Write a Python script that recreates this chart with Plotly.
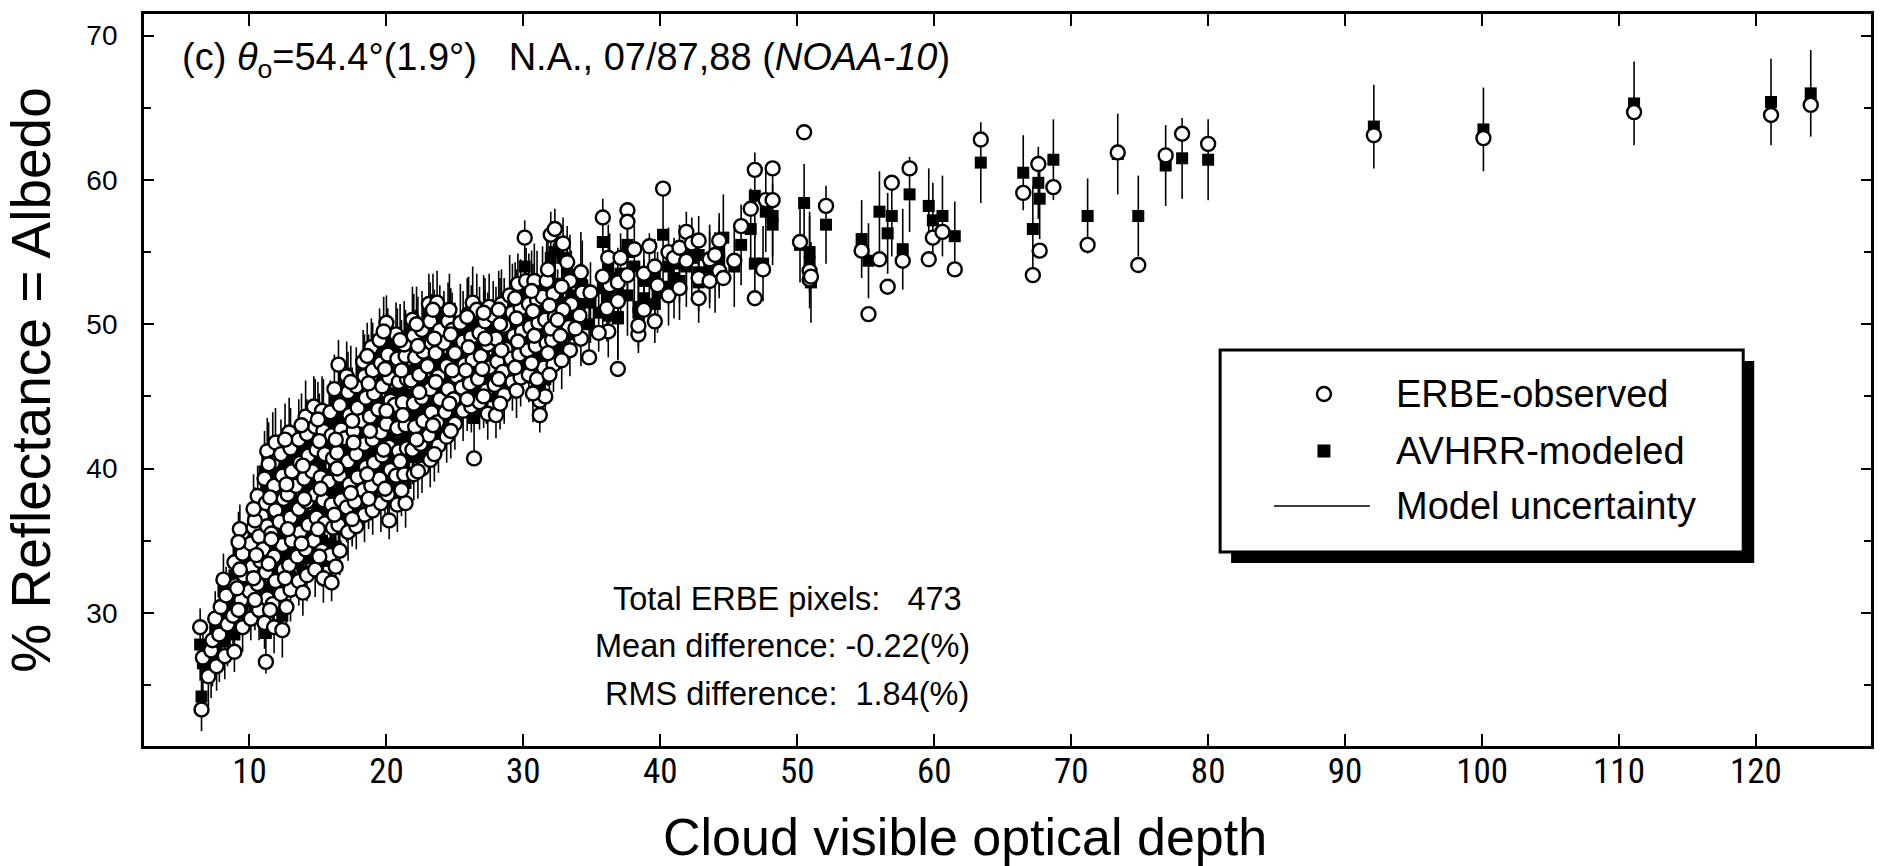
import plotly.graph_objects as go

# ---------------- data ----------------
# Dense part of the cloud: cloud optical depth, ERBE-observed albedo (%),
# AVHRR-modeled albedo (%), half-length of the model-uncertainty bar (%)
tau_dense = [
    6.5, 6.6, 6.4,
    7.0, 7.2, 7.3,
    7.6, 7.8, 7.5, 7.9,
    8.2, 8.4, 8.3, 8.1,
    8.9, 8.8, 9.0, 8.9,
    9.5, 9.4, 9.6, 9.5, 9.3,
    10.1, 10.0, 10.2, 10.1, 10.3,
    10.7, 10.6, 10.8, 10.7, 10.9, 10.6,
    11.2, 11.1, 11.3, 11.2, 11.0, 11.3, 11.2, 11.1, 11.3,
    11.8, 11.7, 11.9, 11.8, 11.6, 11.9, 11.8, 11.7, 11.9,
    12.4, 12.3, 12.5, 12.4, 12.2, 12.5, 12.4, 12.3,
    13.0, 12.9, 13.1, 13.0, 12.8, 13.1, 13.0, 12.9,
    13.6, 13.5, 13.7, 13.6, 13.4, 13.7, 13.6,
    14.2, 14.1, 14.3, 14.2, 14.0, 14.3, 14.2, 14.1,
    14.8, 14.7, 14.9, 14.8, 14.6, 14.9, 14.8, 14.7,
    15.4, 15.3, 15.5, 15.4, 15.2, 15.5, 15.4, 15.3,
    16.0, 15.9, 16.1, 16.0, 15.8, 16.1, 16.0, 15.9,
    16.6, 16.5, 16.7, 16.6, 16.4, 16.7, 16.6, 16.5,
    17.2, 17.1, 17.3, 17.2, 17.0, 17.3, 17.2, 17.1,
    17.8, 17.7, 17.9, 17.8, 17.6, 17.9, 17.8,
    18.4, 18.3, 18.5, 18.4, 18.2, 18.5, 18.4, 18.3,
    19.0, 18.9, 19.1, 19.0, 18.8, 19.1, 19.0, 18.9,
    19.6, 19.5, 19.7, 19.6, 19.4, 19.7, 19.6, 19.5,
    20.2, 20.1, 20.3, 20.2, 20.0, 20.3, 20.2, 20.1, 20.0,
    20.8, 20.7, 20.9, 20.8, 20.6, 20.9, 20.8, 20.7,
    21.4, 21.3, 21.5, 21.4, 21.2, 21.5, 21.4, 21.3,
    22.0, 21.9, 22.1, 22.0, 21.8, 22.1, 22.0, 21.9,
    22.6, 22.5, 22.7, 22.6, 22.4, 22.7, 22.6,
    23.2, 23.1, 23.3, 23.2, 23.0, 23.3, 23.2, 23.1,
    23.8, 23.7, 23.9, 23.8, 23.6, 23.9, 23.7,
    24.4, 24.3, 24.5, 24.4, 24.2, 24.5,
    25.0, 24.9, 25.1, 25.0, 24.8,
    25.6, 25.5, 25.7, 25.6, 25.4,
    26.4, 26.2, 26.1, 26.3, 26.2, 26.0, 26.3,
    26.8, 26.7, 26.9, 26.8, 26.6,
    27.4, 27.3, 27.5, 27.4, 27.2, 27.5,
    28.0, 27.9, 28.1, 28.0, 27.8,
    28.6, 28.5, 28.7, 28.6, 28.4,
    29.2, 29.1, 29.3, 29.2, 29.0,
    29.8, 29.7, 29.9, 29.8, 29.6,
    30.4, 30.3, 30.5, 30.4, 30.2, 30.1,
    31.2, 31.2, 31.0, 30.9, 31.1, 31.0, 30.8,
    31.6, 31.5, 31.7, 31.6, 31.4, 31.7,
    32.2, 32.1, 32.3, 32.2, 32.0, 32.3,
    33.4, 33.3, 33.5, 33.4, 33.2,
    34.2, 34.1, 34.3, 34.2,
    36.2, 36.1, 36.3, 36.2,
]
erbe_dense = [
    23.3, 26.9, 29.0,
    25.6, 27.4, 28.1,
    26.3, 28.5, 29.6, 30.4,
    27.0, 29.2, 31.2, 32.3,
    27.3, 29.8, 31.9, 33.5,
    29.0, 30.9, 32.6, 34.1, 35.8,
    29.6, 31.5, 33.2, 34.8, 35.9,
    30.2, 32.0, 33.6, 35.3, 36.7, 38.1,
    26.6, 29.3, 31.0, 32.8, 34.4, 36.0, 37.6, 39.3, 41.2,
    29.0, 30.6, 32.2, 33.9, 35.5, 37.1, 38.8, 40.4, 41.8,
    28.8, 31.3, 33.0, 34.7, 36.3, 37.9, 39.5, 41.0,
    31.6, 33.3, 35.0, 36.6, 38.2, 39.8, 41.4, 42.5,
    32.2, 33.9, 35.6, 37.2, 38.8, 40.4, 42.0,
    32.6, 34.4, 36.1, 37.7, 39.3, 40.9, 42.4, 43.6,
    33.0, 35.0, 36.6, 38.2, 39.8, 41.3, 42.9, 44.3,
    32.4, 34.3, 36.2, 37.8, 39.4, 41.0, 42.6, 44.0,
    32.1, 34.0, 35.9, 37.5, 39.1, 40.7, 42.3, 43.9,
    34.3, 36.1, 37.8, 39.5, 41.1, 42.7, 44.4, 47.2,
    35.6, 37.3, 38.9, 40.5, 42.1, 43.7, 45.3, 46.4,
    36.0, 37.7, 39.4, 41.0, 42.6, 44.2, 45.7,
    36.8, 38.5, 40.1, 41.7, 43.3, 44.9, 46.4, 47.4,
    37.1, 38.8, 40.4, 42.0, 43.6, 45.2, 46.8, 48.4,
    37.6, 39.3, 40.9, 42.5, 44.1, 45.7, 47.3, 48.9,
    36.4, 38.2, 39.9, 41.5, 43.1, 44.7, 46.3, 47.9, 50.1,
    37.5, 39.5, 41.2, 42.8, 44.4, 46.0, 47.6, 49.3,
    37.6, 39.6, 41.4, 43.0, 44.6, 46.2, 47.8, 48.6,
    39.6, 41.3, 42.9, 44.5, 46.1, 47.7, 49.2, 50.3,
    40.0, 41.7, 43.3, 44.9, 46.5, 48.1, 49.6,
    40.6, 42.3, 43.9, 45.5, 47.1, 48.7, 50.2, 51.4,
    41.6, 43.2, 44.8, 46.4, 48.0, 49.6, 51.5,
    42.2, 43.9, 45.5, 47.1, 48.7, 50.2,
    43.1, 44.8, 46.4, 48.0, 49.6,
    44.0, 45.6, 47.2, 48.8, 50.1,
    40.7, 44.3, 45.9, 47.5, 49.1, 50.7, 51.5,
    44.6, 46.2, 47.8, 49.4, 51.0,
    43.8, 45.4, 47.0, 48.6, 50.2, 51.2,
    43.7, 45.8, 47.4, 49.0, 50.6,
    45.1, 46.7, 48.3, 49.9, 51.4,
    46.0, 47.6, 49.2, 50.8, 52.0,
    46.3, 47.9, 49.5, 51.1, 52.8,
    46.5, 48.2, 49.8, 51.4, 53.0, 56.0,
    43.7, 44.7, 46.2, 48.5, 50.1, 51.7, 53.0,
    45.0, 47.0, 48.7, 50.3, 51.9, 53.0,
    47.2, 48.9, 50.5, 52.1, 56.2, 56.6,
    48.2, 49.8, 51.4, 53.0, 54.3,
    49.0, 50.6, 52.2, 53.6,
    49.5, 51.1, 52.7, 54.6,
]
avhrr_dense = [
    24.2, 26.5, 27.8,
    26.0, 26.8, 27.5,
    27.2, 28.0, 29.0, 29.8,
    28.1, 28.8, 30.4, 31.5,
    28.5, 30.4, 31.2, 32.6,
    30.1, 31.5, 32.0, 33.4, 34.6,
    30.8, 32.3, 33.9, 34.0, 35.1,
    31.0, 32.8, 34.1, 35.0, 36.0, 37.2,
    28.6, 30.5, 31.6, 33.5, 35.2, 36.8, 38.4, 39.8, 40.5,
    30.2, 31.4, 33.0, 34.8, 36.3, 37.5, 39.2, 40.9, 41.0,
    29.8, 32.2, 33.6, 35.3, 37.0, 38.3, 39.9, 40.3,
    32.5, 34.1, 35.5, 37.4, 38.9, 40.2, 41.0, 41.9,
    33.4, 34.6, 36.4, 37.8, 39.5, 41.0, 41.5,
    33.8, 35.3, 36.7, 38.4, 39.8, 41.4, 42.1, 42.9,
    34.2, 35.6, 37.3, 38.9, 40.5, 41.7, 43.2, 43.5,
    33.6, 35.0, 36.9, 38.3, 40.1, 41.5, 42.9, 43.4,
    33.8, 34.8, 36.4, 38.2, 39.6, 41.3, 42.7, 43.0,
    35.8, 36.9, 38.6, 40.0, 41.8, 43.1, 44.0, 45.5,
    36.6, 38.0, 39.5, 41.2, 42.6, 44.2, 45.0, 45.8,
    37.3, 38.5, 40.1, 41.6, 43.3, 44.6, 45.2,
    38.0, 39.3, 40.8, 42.4, 43.8, 45.3, 46.0, 46.6,
    38.4, 39.6, 41.2, 42.5, 44.3, 45.8, 46.9, 47.3,
    38.8, 40.0, 41.6, 43.2, 44.6, 46.3, 47.6, 48.0,
    38.0, 39.0, 40.6, 42.1, 43.8, 45.2, 46.8, 48.2, 48.8,
    38.6, 40.3, 41.7, 43.5, 45.0, 46.6, 47.9, 48.5,
    39.0, 40.4, 42.1, 43.6, 45.3, 46.7, 48.0, 48.4,
    40.8, 42.0, 43.6, 45.1, 46.8, 48.2, 49.0, 49.6,
    41.2, 42.5, 44.0, 45.6, 47.0, 48.6, 49.1,
    41.8, 43.1, 44.6, 46.0, 47.8, 49.0, 50.0, 50.5,
    42.7, 44.0, 45.4, 47.1, 48.5, 49.8, 50.6,
    43.3, 44.6, 46.2, 47.6, 49.1, 49.9,
    44.3, 45.5, 47.0, 48.5, 49.4,
    45.0, 46.3, 47.8, 49.2, 49.8,
    43.5, 45.4, 46.6, 48.1, 49.5, 50.4, 51.0,
    45.6, 46.9, 48.5, 49.8, 50.5,
    45.0, 46.2, 47.5, 49.2, 50.0, 50.6,
    45.2, 46.5, 48.0, 49.5, 50.2,
    46.0, 47.4, 48.8, 50.3, 50.8,
    47.0, 48.3, 49.7, 51.2, 51.6,
    47.2, 48.5, 50.0, 51.5, 52.0,
    47.6, 48.9, 50.3, 51.9, 52.5, 54.0,
    45.5, 46.0, 47.3, 49.2, 50.6, 52.0, 52.6,
    46.2, 47.7, 49.3, 50.9, 52.4, 52.7,
    48.3, 49.5, 51.1, 52.6, 54.6, 55.0,
    49.3, 50.6, 52.0, 53.4, 53.8,
    50.1, 51.3, 52.7, 53.4,
    50.6, 51.8, 53.2, 54.0,
]
unc_dense = [
    2.4, 2.6, 2.5,
    2.5, 2.7, 2.6,
    2.6, 2.8, 2.5, 2.7,
    2.7, 2.5, 2.8, 2.6,
    2.6, 2.9, 2.7, 2.5,
    2.8, 2.6, 3.0, 2.7, 2.9,
    2.7, 3.0, 2.6, 2.9, 2.8,
    2.9, 2.7, 3.1, 2.8, 2.6, 3.0,
    2.8, 3.0, 2.7, 3.2, 2.9, 2.6, 3.1, 2.8, 3.0,
    3.0, 2.8, 3.1, 2.7, 3.3, 2.9, 2.6, 3.0, 3.2,
    2.9, 3.1, 2.8, 3.0, 2.7, 3.2, 2.9, 3.1,
    3.1, 2.8, 3.0, 3.3, 2.9, 2.7, 3.2, 3.0,
    2.9, 3.2, 2.8, 3.0, 3.1, 2.7, 3.3,
    3.0, 2.8, 3.2, 2.9, 3.1, 3.0, 2.7, 3.2,
    3.1, 2.9, 3.0, 3.3, 2.8, 3.1, 3.0, 2.9,
    2.9, 3.2, 2.8, 3.0, 3.1, 2.9, 3.3, 3.0,
    3.0, 2.9, 3.1, 2.8, 3.2, 3.0, 2.9, 3.1,
    3.2, 3.0, 2.9, 3.1, 2.8, 3.3, 3.0, 3.4,
    3.0, 3.1, 2.9, 3.2, 3.0, 2.8, 3.1, 3.0,
    2.9, 3.2, 3.0, 2.8, 3.1, 3.0, 3.2,
    3.1, 2.9, 3.2, 3.0, 2.8, 3.1, 3.3, 3.0,
    3.0, 3.2, 2.9, 3.1, 3.0, 2.8, 3.2, 3.1,
    3.2, 3.0, 3.1, 2.9, 3.2, 3.0, 2.9, 3.1,
    2.9, 3.1, 3.0, 3.2, 2.8, 3.1, 3.0, 2.9, 3.2,
    3.0, 3.2, 2.9, 3.0, 3.1, 2.8, 3.2, 3.0,
    3.1, 2.9, 3.2, 3.0, 2.9, 3.1, 3.0, 3.2,
    3.0, 3.1, 2.9, 3.2, 3.0, 2.8, 3.1, 3.0,
    2.9, 3.2, 3.0, 3.1, 2.8, 3.0, 3.2,
    3.1, 3.0, 2.9, 3.2, 3.0, 3.1, 2.9, 3.0,
    3.0, 2.9, 3.1, 3.0, 3.2, 2.9, 3.1,
    2.9, 3.1, 3.0, 2.8, 3.2, 3.0,
    3.0, 2.9, 3.1, 3.0, 2.8,
    3.1, 3.0, 2.9, 3.1, 3.0,
    3.0, 2.9, 3.1, 3.0, 3.2, 2.9, 3.0,
    2.9, 3.0, 3.1, 2.8, 3.0,
    3.0, 3.1, 2.9, 3.0, 3.2, 2.9,
    3.1, 2.9, 3.0, 3.1, 2.8,
    2.9, 3.0, 3.1, 2.9, 3.0,
    3.0, 3.1, 2.9, 3.0, 3.2,
    2.9, 3.0, 3.1, 3.0, 2.9,
    3.0, 2.9, 3.1, 3.0, 2.8, 3.2,
    3.0, 2.9, 3.1, 3.0, 2.9, 3.1, 3.0,
    2.9, 3.1, 3.0, 2.9, 3.0, 3.1,
    3.0, 2.9, 3.1, 3.0, 3.2, 3.0,
    2.9, 3.0, 3.1, 2.8, 3.0,
    3.0, 2.9, 3.1, 3.0,
    2.9, 3.0, 3.1, 2.9,
]

# More pixels packed in between the columns above
tau_fill = [
    9.2, 9.1, 9.3, 9.2,
    10.4, 10.3, 10.5, 10.4, 10.3,
    11.5, 11.4, 11.6, 11.5, 11.4,
    12.7, 12.6, 12.8, 12.7, 12.6,
    13.9, 13.8, 14.0, 13.9, 13.8,
    15.1, 15.0, 15.2, 15.1, 15.0,
    16.3, 16.2, 16.4, 16.3, 16.2,
    17.5, 17.4, 17.6, 17.5, 17.4,
    18.7, 18.6, 18.8, 18.7, 18.6,
    19.9, 19.8, 20.0, 19.9, 19.8,
    21.1, 21.0, 21.2, 21.1, 21.0,
    22.3, 22.2, 22.4, 22.3, 22.2,
    23.5, 23.4, 23.6, 23.5, 23.4,
    24.7, 24.6, 24.8, 24.7, 24.6,
    25.9, 25.8, 26.0, 25.9,
    27.1, 27.0, 27.2, 27.1,
    28.3, 28.2, 28.4, 28.3, 28.2,
    29.5, 29.4, 29.6, 29.5, 29.4,
    30.7, 30.6, 30.8, 30.7, 30.6,
    31.9, 31.8, 32.0, 31.9, 31.8,
    32.8, 32.7, 32.9, 32.8,
]
erbe_fill = [
    30.2, 31.7, 33.0, 34.9,
    30.9, 32.4, 34.0, 36.4, 37.2,
    30.2, 33.4, 35.1, 38.0, 40.3,
    30.4, 32.4, 35.8, 38.9, 42.0,
    31.4, 34.8, 37.9, 40.2, 43.0,
    33.9, 35.8, 38.6, 41.9, 43.4,
    33.2, 36.8, 40.0, 42.0, 45.5,
    36.5, 38.3, 41.8, 43.3, 46.0,
    37.9, 39.6, 42.6, 45.9, 47.8,
    38.6, 41.3, 44.0, 46.9, 49.5,
    38.5, 40.5, 43.7, 46.8, 48.9,
    39.8, 42.0, 45.3, 48.5, 50.0,
    41.0, 43.0, 46.0, 49.0, 51.0,
    42.6, 44.5, 46.8, 49.3, 51.0,
    44.8, 46.8, 48.4, 50.5,
    45.0, 46.9, 49.0, 50.8,
    44.5, 46.2, 48.2, 50.0, 51.0,
    45.4, 47.0, 48.8, 50.4, 51.8,
    45.2, 47.3, 49.2, 50.9, 52.3,
    46.5, 48.0, 49.7, 51.3, 53.8,
    47.5, 49.2, 51.0, 52.6,
]
avhrr_fill = [
    30.8, 32.5, 33.6, 34.2,
    31.6, 33.0, 34.6, 35.8, 36.5,
    31.3, 34.0, 35.8, 38.6, 40.0,
    31.5, 33.5, 36.2, 39.4, 41.3,
    32.8, 35.6, 38.4, 40.6, 42.4,
    35.0, 36.5, 39.3, 42.0, 43.0,
    34.6, 37.5, 40.6, 42.5, 44.7,
    37.6, 39.0, 42.3, 43.9, 45.5,
    38.9, 40.3, 43.2, 46.1, 47.2,
    39.6, 41.9, 44.6, 47.3, 48.7,
    39.6, 41.2, 44.2, 47.2, 48.5,
    41.0, 42.8, 45.8, 48.8, 49.6,
    42.1, 43.8, 46.5, 49.4, 50.4,
    43.6, 45.2, 47.3, 49.6, 50.5,
    45.6, 47.4, 48.9, 50.2,
    45.9, 47.5, 49.4, 50.4,
    45.6, 47.0, 48.8, 50.3, 50.7,
    46.5, 47.7, 49.3, 50.8, 51.4,
    46.3, 48.0, 49.7, 51.2, 52.0,
    47.4, 48.7, 50.2, 51.8, 53.0,
    48.5, 49.8, 51.5, 52.8,
]
unc_fill = [
    2.7, 2.9, 2.6, 2.8,
    2.8, 3.0, 2.7, 2.9, 3.1,
    3.0, 2.8, 3.1, 2.9, 3.2,
    2.9, 3.1, 2.8, 3.0, 3.2,
    3.0, 2.9, 3.2, 3.1, 2.8,
    3.1, 3.0, 2.9, 3.2, 3.0,
    2.9, 3.1, 3.0, 2.8, 3.2,
    3.0, 3.2, 2.9, 3.1, 3.0,
    3.1, 2.9, 3.0, 3.2, 2.9,
    3.0, 3.1, 2.9, 3.0, 3.2,
    2.9, 3.0, 3.2, 3.1, 2.9,
    3.1, 2.9, 3.0, 3.1, 3.0,
    3.0, 3.2, 2.9, 3.0, 3.1,
    2.9, 3.0, 3.1, 2.9, 3.0,
    3.0, 2.9, 3.1, 3.0,
    3.1, 3.0, 2.9, 3.0,
    2.9, 3.1, 3.0, 2.9, 3.0,
    3.0, 2.9, 3.1, 3.0, 2.9,
    3.1, 3.0, 2.9, 3.0, 3.1,
    2.9, 3.0, 3.1, 3.0, 2.9,
    3.0, 2.9, 3.0, 3.1,
]

# Sparser part (tau > ~32)
tau_sparse = [
    32.5, 32.9, 33.8, 34.8, 34.9, 35.5, 35.8, 35.8,
    36.9, 36.9, 36.9, 37.1, 37.6, 37.6, 37.6, 38.1,
    38.4, 38.4, 38.8, 38.8, 39.2, 39.6, 39.6, 39.8,
    40.2, 40.6, 40.6, 41.0, 41.4, 41.4, 41.9, 41.9,
    42.3, 42.8, 42.8, 42.8, 43.6, 43.6, 44.0, 44.3,
    44.3, 44.6, 45.4, 45.9, 46.6, 46.9, 46.9, 47.5,
    47.7, 48.2, 48.2, 50.2, 50.5, 50.9, 50.9, 51.0,
    52.1, 54.7, 55.2, 56.0, 56.6, 56.9, 57.7, 58.2,
    59.6, 59.9, 60.6, 61.5, 63.4, 66.5, 67.2, 67.7,
    67.6, 68.7, 71.2, 73.4, 74.9, 76.9, 78.1, 80.0,
    92.1, 100.1, 111.1, 121.1, 124.0,
]
erbe_sparse = [
    50.3, 55.6, 49.7, 47.7, 52.2, 49.4, 57.4, 53.3,
    52.9, 51.6, 46.9, 54.6, 57.9, 57.1, 53.4, 55.2,
    49.3, 49.9, 51.0, 53.5, 55.4, 50.2, 54.0, 52.7,
    59.4, 52.0, 55.0, 54.6, 52.5, 55.3, 56.4, 54.4,
    55.6, 51.8, 53.2, 55.8, 53.0, 54.5, 54.8, 53.7,
    55.8, 53.2, 54.4, 56.8, 58.0, 60.7, 51.8, 53.8,
    58.6, 60.8, 58.6, 55.7, 63.3, 53.7, 53.1, 53.3,
    58.2, 55.1, 50.7, 54.5, 52.6, 59.8, 54.4, 60.8,
    54.5, 56.0, 56.4, 53.8, 62.8, 59.1, 53.4, 55.1,
    61.1, 59.5, 55.5, 61.9, 54.1, 61.7, 63.2, 62.5,
    63.1, 62.9, 64.7, 64.5, 65.2,
]
avhrr_sparse = [
    51.0, 54.6, 50.5, 50.0, 51.5, 50.8, 55.7, 52.5,
    52.5, 50.4, 50.5, 53.5, 55.0, 55.5, 52.0, 54.0,
    50.8, 51.2, 51.8, 53.0, 53.5, 51.4, 53.2, 52.2,
    56.2, 52.6, 54.0, 53.2, 53.0, 54.2, 55.0, 54.0,
    54.6, 52.9, 53.6, 54.8, 53.8, 54.2, 53.6, 54.5,
    55.0, 56.0, 54.0, 55.5, 56.6, 58.9, 54.2, 54.2,
    57.8, 56.9, 57.5, 55.5, 58.4, 55.0, 54.3, 52.9,
    56.9, 55.9, 54.4, 57.8, 56.3, 57.5, 55.2, 59.0,
    58.2, 57.2, 57.5, 56.1, 61.2, 60.5, 56.6, 58.7,
    59.8, 61.4, 57.5, 61.8, 57.5, 61.0, 61.5, 61.4,
    63.7, 63.5, 65.3, 65.4, 66.0,
]
unc_sparse = [
    2.8, 2.8, 2.7, 2.8, 2.8, 2.7, 3.0, 2.8,
    2.8, 2.8, 3.0, 2.8, 3.0, 2.8, 2.8, 2.8,
    2.8, 2.8, 2.7, 2.7, 2.8, 2.7, 2.7, 2.8,
    3.3, 2.7, 2.7, 2.8, 2.7, 2.7, 2.8, 2.8,
    2.8, 2.8, 2.7, 2.7, 2.7, 2.7, 2.8, 2.7,
    2.7, 3.0, 2.8, 2.8, 2.8, 3.0, 2.8, 2.6,
    2.8, 2.8, 2.8, 2.6, 2.7, 2.8, 3.2, 2.8,
    2.7, 2.7, 2.6, 2.8, 2.8, 2.8, 2.8, 2.6,
    2.6, 2.6, 2.8, 2.4, 2.8, 2.6, 3.0, 2.8,
    2.5, 2.8, 2.6, 2.8, 2.8, 2.8, 2.8, 2.8,
    2.9, 2.9, 2.9, 3.0, 3.0,
]

x_ticks = [10, 20, 30, 40, 50, 60, 70, 80, 90, 100, 110, 120]
y_ticks = [30, 40, 50, 60, 70]

legend_labels = ["ERBE-observed", "AVHRR-modeled", "Model uncertainty"]
stats_lines = ["Total ERBE pixels:   473",
               "Mean difference: -0.22(%)",
               "RMS difference:  1.84(%)"]
panel_title = "(c) <i>θ</i><sub>o</sub>=54.4°(1.9°)   N.A., 07/87,88 (<i>NOAA-10</i>)"
x_title = "Cloud visible optical depth"
y_title = "% Reflectance = Albedo"

# ---------------- assemble ----------------
groups = [(tau_dense, erbe_dense, avhrr_dense, unc_dense),
          (tau_fill, erbe_fill, avhrr_fill, unc_fill),
          (tau_sparse, erbe_sparse, avhrr_sparse, unc_sparse)]
tau, erbe, avhrr, unc = [], [], [], []
for g in groups:
    assert len(set(len(a) for a in g)) == 1, [len(a) for a in g]
    tau += g[0]
    erbe += g[1]
    avhrr += g[2]
    unc += g[3]

bar_x, bar_y = [], []
for t, m, u in zip(tau, avhrr, unc):
    bar_x += [t, t, None]
    bar_y += [m - u, m + u, None]

W, H = 1881, 866
ML, MR, MT, MB = 144, 7, 14, 120
PW, PH = W - ML - MR, H - MT - MB


def pxx(x):
    return (x - ML) / PW


def pxy(y):
    return (H - MB - y) / PH


FONT = "Liberation Sans, Arial, Helvetica, sans-serif"
NARROW = ("Liberation Sans Narrow, Arial Narrow, Roboto Condensed, Noto Sans Condensed, "
          "DejaVu Sans Condensed, Liberation Sans, sans-serif")

fig = go.Figure()
fig.add_trace(go.Scatter(x=bar_x, y=bar_y, mode="lines",
                         line=dict(color="black", width=1.6),
                         name=legend_labels[2], showlegend=False, hoverinfo="skip"))
fig.add_trace(go.Scatter(x=tau, y=avhrr, mode="markers", name=legend_labels[1],
                         marker=dict(symbol="square", size=12, color="black"),
                         showlegend=False))
fig.add_trace(go.Scatter(x=tau, y=erbe, mode="markers", name=legend_labels[0],
                         marker=dict(symbol="circle", size=14, color="white",
                                     line=dict(color="black", width=2.4)),
                         showlegend=False))

shapes = []
# legend box with drop shadow
bx0, bx1, by0, by1 = 1222, 1746, 350, 552
sh = 11
shapes.append(dict(type="rect", xref="paper", yref="paper",
                   x0=pxx(bx0 + sh), x1=pxx(bx1 + sh), y0=pxy(by0 + sh), y1=pxy(by1 + sh),
                   fillcolor="black", line=dict(width=0)))
shapes.append(dict(type="rect", xref="paper", yref="paper",
                   x0=pxx(bx0), x1=pxx(bx1), y0=pxy(by0), y1=pxy(by1),
                   fillcolor="white", line=dict(color="black", width=3)))
# legend keys
kx = 1326
shapes.append(dict(type="circle", xref="paper", yref="paper",
                   x0=pxx(kx - 7), x1=pxx(kx + 7), y0=pxy(394 - 7), y1=pxy(394 + 7),
                   fillcolor="white", line=dict(color="black", width=2.4)))
shapes.append(dict(type="rect", xref="paper", yref="paper",
                   x0=pxx(kx - 6.5), x1=pxx(kx + 6.5), y0=pxy(451 - 6.5), y1=pxy(451 + 6.5),
                   fillcolor="black", line=dict(width=0)))
shapes.append(dict(type="line", xref="paper", yref="paper",
                   x0=pxx(1276), x1=pxx(1372), y0=pxy(506), y1=pxy(506),
                   line=dict(color="black", width=1.6)))

annotations = []
for lab, yy in zip(legend_labels, [394, 451, 506]):
    annotations.append(dict(text=lab, xref="paper", yref="paper", x=pxx(1396), y=pxy(yy),
                            xanchor="left", yanchor="middle", showarrow=False,
                            font=dict(family=FONT, size=38, color="black")))
for line, (xx, yy) in zip(stats_lines, [(612, 599), (594, 646), (604, 694)]):
    annotations.append(dict(text=line, xref="paper", yref="paper", x=pxx(xx), y=pxy(yy),
                            xanchor="left", yanchor="middle", showarrow=False,
                            font=dict(family=FONT, size=32.5, color="black")))
annotations.append(dict(text=panel_title, xref="paper", yref="paper", x=pxx(180), y=pxy(60),
                        xanchor="left", yanchor="middle", showarrow=False,
                        font=dict(family=FONT, size=38, color="black")))
annotations.append(dict(text=x_title, xref="paper", yref="paper", x=pxx(966), y=pxy(837),
                        xanchor="center", yanchor="middle", showarrow=False,
                        font=dict(family=FONT, size=52, color="black")))

fig.update_layout(
    width=W, height=H,
    margin=dict(l=ML, r=MR, t=MT, b=MB, pad=0),
    paper_bgcolor="white", plot_bgcolor="white",
    showlegend=False,
    shapes=shapes, annotations=annotations,
    xaxis=dict(range=[2.3, 128.4], tickmode="array", tickvals=x_ticks,
               ticktext=[str(v) for v in x_ticks],
               ticks="inside", ticklen=12, tickwidth=2, tickcolor="black",
               showline=True, linewidth=2.8, linecolor="black", mirror="allticks",
               showgrid=False, zeroline=False, ticklabelstandoff=-8,
               tickfont=dict(family=NARROW, size=35, color="black")),
    yaxis=dict(range=[20.77, 71.5], tickmode="array", tickvals=y_ticks,
               ticktext=[str(v) for v in y_ticks],
               ticks="inside", ticklen=10, tickwidth=2, tickcolor="black",
               minor=dict(tick0=0, dtick=5, ticks="inside", ticklen=7, tickwidth=2,
                          tickcolor="black", showgrid=False),
               showline=True, linewidth=2.8, linecolor="black", mirror="allticks",
               showgrid=False, zeroline=False, ticklabelstandoff=18,
               tickfont=dict(family=FONT, size=28, color="black"),
               title=dict(text=y_title, standoff=24,
                          font=dict(family=FONT, size=55, color="black"))),
)

fig.write_html("out.html")
